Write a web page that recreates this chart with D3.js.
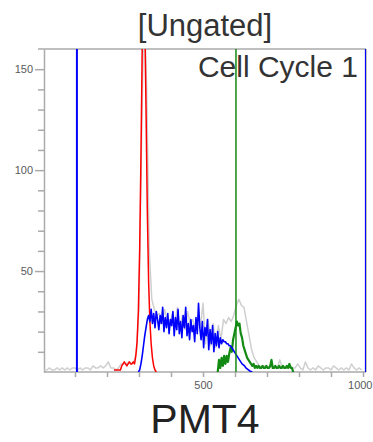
<!DOCTYPE html>
<html>
<head>
<meta charset="utf-8">
<script src="https://d3js.org/d3.v7.min.js"></script>
<style>
  body { margin: 0; background: #fff; }
  text { font-family: "Liberation Sans", Arial, sans-serif; }
</style>
</head>
<body>
<div id="chart-1"></div>
<script>
var width = 373
var height = 442

// histogram counts (channel = start + i*step)
var grayStart = 0, grayStep = 8
var grayCounts = [1,1,2,1,1,2,1,2,1,2,1,2,2,1,2,1,2,2,1,3,2,2,3,2,3,5,2,2,1,2,4,4,
  4,5,4,5,10,32,115,185,140,60,36,31,28,29,24,31,26,22,29,24,32,22,28,21,30,24,26,20,28,22,34,14,
  26,13,24,12,23,16,26,24,27,25,28,33,36,33,32,25,18,11,7,5,3,2,3,2,2,3,2,2,6,2,
  2,2,3,2,2,4,2,1,5,2,1,2,1,3,2,1,2,2,1,3,2,1,2,1,2,1,4,2,1,2,1]

var redStart = 220, redStep = 4
var redCounts = [1,1,1,1,1,1,3,4,5,4,3,4,5,4,4,5,4,8,15,30,60,105,160,190,175,130,80,45,25,14,7,3,1,0]

var blueStart = 296, blueStep = 4
var blueCounts = [0,1,4,8,13,18,22,26,28,25,31,24,29,22,30,26,21,28,24,32,20,27,22,29,19,26,23,30,18,27,
  21,31,19,25,17,28,22,32,18,24,16,26,20,23,15,27,19,34,22,16,25,12,22,18,26,11,21,14,23,10,
  19,13,20,12,17,14,16,15,15,14,14,13,13,12,11,10,9,8,7,6,5,4,3.5,3,2,1.5,1,0.5,0.3,0]

var greenStart = 544, greenStep = 4
var greenCounts = [0,6,2,7,3,8,4,8,5,9,12,10,16,19,22,25,23,24,19,17,13,11,9,7,6,5,4,3,4,2,
  3,2,3,2,2,3,2,2,3,2,2,3,6,2,2,3,2,2,3,2,2,3,2,2,3,2,4,2,2,0]

// vertical markers (channel)
var blueMarkers = [106, 1009]
var greenMarkers = [603]

var yTicks = d3.range(10, 151, 10)
var yLabels = [50, 100, 150]
var xTicks = d3.range(100, 1001, 100)
var xLabels = [500, 1000]

var plotLeft = 44, plotRight = 366, plotTop = 49, plotBottom = 372

var x = d3.scaleLinear().domain([0, 1000]).range([43, 363])
var y = d3.scaleLinear().domain([0, 160]).range([plotBottom, plotTop])

var svg = d3.select("#chart-1")
  .append("svg")
  .attr("width", width)
  .attr("height", height)

svg.append("defs").append("clipPath")
  .attr("id", "plotclip")
  .append("rect")
  .attr("x", plotLeft).attr("y", plotTop)
  .attr("width", plotRight - plotLeft).attr("height", plotBottom - plotTop)

// titles
svg.append("text")
  .attr("x", 205).attr("y", 36)
  .attr("text-anchor", "middle")
  .style("font-size", "31px")
  .style("fill", "#333")
  .text("[Ungated]")

svg.append("text")
  .attr("x", 205).attr("y", 433)
  .attr("text-anchor", "middle")
  .style("font-size", "41px")
  .style("fill", "#222")
  .text("PMT4")

// frame
svg.append("line")
  .attr("x1", 38).attr("x2", plotRight)
  .attr("y1", plotTop).attr("y2", plotTop)
  .style("stroke", "#aaa").style("stroke-width", 1.5)
svg.append("line")
  .attr("x1", plotRight).attr("x2", plotRight)
  .attr("y1", plotTop).attr("y2", plotBottom)
  .style("stroke", "#aaa").style("stroke-width", 1.5)

// y axis
var yAxis = svg.append("g")
  .attr("transform", "translate(" + plotLeft + ",0)")
  .call(d3.axisLeft(y)
    .tickValues(yTicks)
    .tickSizeOuter(0)
    .tickFormat(function(d) { return yLabels.indexOf(d) >= 0 ? d : "" }))
yAxis.selectAll("line")
  .attr("x2", function(d) { return yLabels.indexOf(d) >= 0 ? -9 : -6 })
yAxis.selectAll("text").attr("x", -11)

// x axis
var xAxis = svg.append("g")
  .attr("transform", "translate(0," + plotBottom + ")")
  .call(d3.axisBottom(x)
    .tickValues(xTicks)
    .tickSize(5)
    .tickSizeOuter(0)
    .tickFormat(function(d) { return xLabels.indexOf(d) >= 0 ? d : "" }))
xAxis.select(".domain").attr("d", "M" + plotLeft + ",0H" + plotRight)
xAxis.selectAll("text").attr("y", 9)
  .filter(function(d) { return d == 1000 })
  .attr("text-anchor", "end")
  .attr("dx", 9)

svg.selectAll(".domain, .tick line")
  .attr("stroke", "#aaa").style("stroke-width", 1.5)
svg.selectAll(".tick text")
  .attr("fill", "#5a5a5a")
  .style("font-size", "11px")
  .style("font-family", "Liberation Sans, Arial, sans-serif")

var data = svg.append("g").attr("clip-path", "url(#plotclip)")

function drawSeries(counts, start, step, color, w) {
  var line = d3.line()
    .x(function(d, i) { return x(start + i * step + step / 2) })
    .y(function(d) { return y(d) })
  data.append("path")
    .datum(counts)
    .attr("d", line)
    .style("fill", "none")
    .style("stroke", color)
    .style("stroke-width", w)
    .style("stroke-linejoin", "round")
}

drawSeries(grayCounts, grayStart, grayStep, "#cfcfcf", 1.5)
drawSeries(redCounts, redStart, redStep, "#ff0000", 1.5)
drawSeries(greenCounts, greenStart, greenStep, "#138a13", 2.2)
drawSeries(blueCounts, blueStart, blueStep, "#0000ff", 1.6)

// markers
data.selectAll(".bmark")
  .data(blueMarkers)
  .enter()
  .append("line")
  .attr("x1", function(d) { return x(d) }).attr("x2", function(d) { return x(d) })
  .attr("y1", plotTop).attr("y2", plotBottom)
  .style("stroke", "#0000ff").style("stroke-width", 2)

data.selectAll(".gmark")
  .data(greenMarkers)
  .enter()
  .append("line")
  .attr("x1", function(d) { return x(d) }).attr("x2", function(d) { return x(d) })
  .attr("y1", plotTop).attr("y2", plotBottom)
  .style("stroke", "#138a13").style("stroke-width", 1.5)

svg.append("text")
  .attr("x", 358).attr("y", 77)
  .attr("text-anchor", "end")
  .style("font-size", "30px")
  .style("fill", "#333")
  .text("Cell Cycle 1")
</script>
</body>
</html>
